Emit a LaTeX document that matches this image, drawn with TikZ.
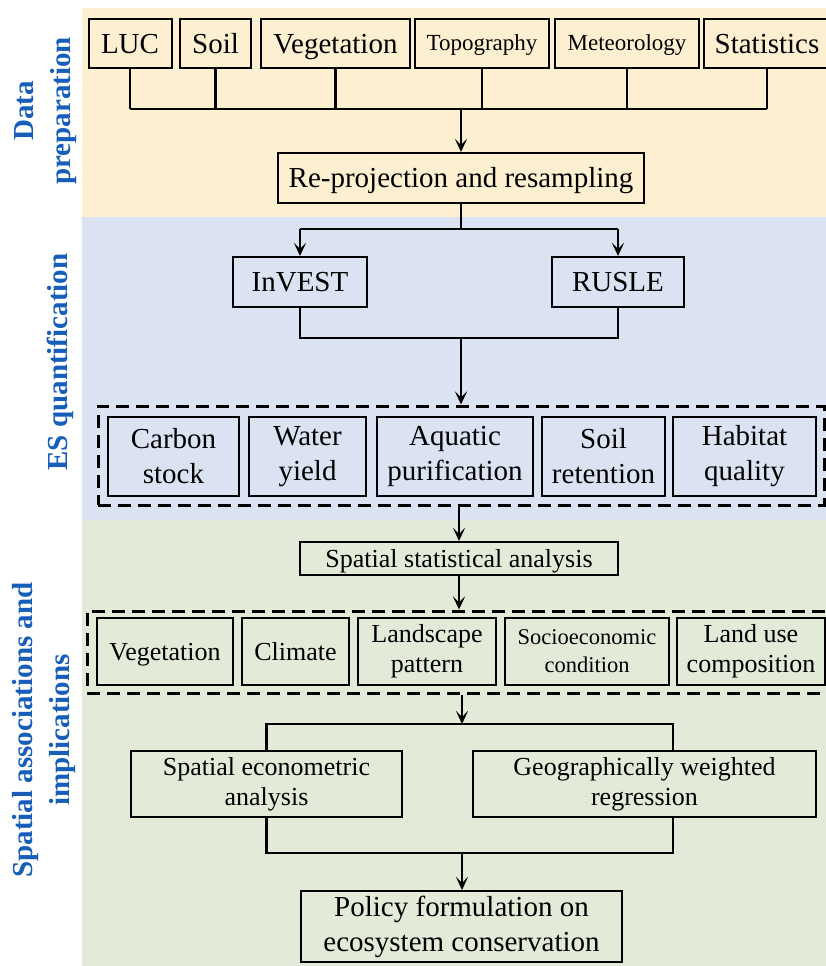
\documentclass[tikz,border=0pt]{standalone}
\usepackage{fontspec}
\setmainfont{Liberation Serif}
\usetikzlibrary{arrows.meta}
\definecolor{bgY}{RGB}{253,240,208}
\definecolor{bgB}{RGB}{219,227,243}
\definecolor{bgG}{RGB}{226,235,216}
\definecolor{labblue}{RGB}{23,94,186}
\tikzset{
 box/.style={draw, line width=2pt, inner sep=0pt, align=center, text=black},
 conn/.style={line width=2.5pt},
 arr/.style={line width=2.5pt, -{Stealth[length=13pt,width=12pt,inset=6pt]}},
 grp/.style={draw, line width=3pt, dash pattern=on 13pt off 7pt, inner sep=0pt},
 lab/.style={rotate=90, align=center, text=labblue, font=\bfseries\fontsize{29}{37}\selectfont},
 fA/.style={font=\fontsize{29}{35}\selectfont},
 fB/.style={font=\fontsize{23}{28}\selectfont},
 fC/.style={font=\fontsize{26}{30}\selectfont},
 fD/.style={font=\fontsize{29}{35}\selectfont},
 fE/.style={font=\fontsize{22.5}{28}\selectfont},
 slA/.style={text height=22pt, text depth=3pt},
 slB/.style={text height=17pt, text depth=2pt},
 slC/.style={text height=19pt, text depth=2pt},
}
\begin{document}
\begin{tikzpicture}[x=1pt,y=-1pt]
\useasboundingbox (0,0) rectangle (826,966);
\clip (0,0) rectangle (826,966);
\fill[white] (0,0) rectangle (826,966);
\fill[bgY] (82,8) rectangle (826,217);
\fill[bgB] (82,217) rectangle (826,520);
\fill[bgG] (82,520) rectangle (826,966);

% side labels
\node[lab] (l1) at (46,111) {Data\\preparation};
\node[lab] (l2) at (60,362) {ES quantification};
\node[lab] (l3) at (44,730) {Spatial associations and\\implications};

% top row
\node[box, fA, slA, minimum width=83pt, minimum height=49pt] (luc) at (130,43.5) {LUC};
\node[box, fA, slA, minimum width=71pt, minimum height=49pt] (soil) at (215.5,43.5) {Soil};
\node[box, fA, slA, minimum width=149pt, minimum height=49pt] (veg) at (335.5,43.5) {Vegetation};
\node[box, fB, slB, minimum width=134pt, minimum height=49pt] (topo) at (482,43.5) {Topography};
\node[box, fB, slB, minimum width=144pt, minimum height=49pt] (met) at (627,43.5) {Meteorology};
\node[box, fA, slA, minimum width=126pt, minimum height=49pt] (stat) at (767,43.5) {Statistics};

\node[box, fD, slA, minimum width=366pt, minimum height=50pt] (rp) at (461,178) {Re-projection and resampling};

\coordinate (bus) at (0,109);
\foreach \n in {luc,soil,veg,topo,met,stat}{
  \draw[conn] (\n.south) -- (\n.south |- bus);
}
\draw[conn] (luc.south |- bus) -- (stat.south |- bus);
\draw[arr] (rp.north |- bus) -- (rp.north);

% ES quantification
\node[box, fA, slA, minimum width=134pt, minimum height=50pt] (inv) at (300,282) {InVEST};
\node[box, fA, slA, minimum width=132pt, minimum height=50pt] (rus) at (618,282) {RUSLE};
\coordinate (split) at (0,229);
\draw[conn] (rp.south) -- (rp.south |- split);
\draw[conn] (inv.north |- split) -- (rus.north |- split);
\draw[arr] (inv.north |- split) -- (inv.north);
\draw[arr] (rus.north |- split) -- (rus.north);

\node[grp, minimum width=726pt, minimum height=99pt] (esg) at (461,455.5) {};
\coordinate (join1) at (0,338);
\draw[conn] (inv.south) -- (inv.south |- join1) -- (rus.south |- join1) -- (rus.south);
\draw[arr] (esg.north |- join1) -- (esg.north);

\node[box, fD, minimum width=131pt, minimum height=79pt] (cs) at (173.5,456.5) {Carbon\\stock};
\node[box, fD, minimum width=117pt, minimum height=79pt] (wy) at (307.5,456.5) {Water\\yield};
\node[box, fD, minimum width=156pt, minimum height=79pt] (ap) at (455,456.5) {Aquatic\\purification};
\node[box, fD, minimum width=123pt, minimum height=79pt] (sr) at (603.5,456.5) {Soil\\retention};
\node[box, fD, minimum width=143pt, minimum height=79pt] (hq) at (744.5,456.5) {Habitat\\quality};

% Spatial associations
\node[box, fC, slC, minimum width=318pt, minimum height=33pt] (ssa) at (459,558.5) {Spatial statistical analysis};
\draw[arr] (esg.south -| ssa.north) -- (ssa.north);

\node[grp, minimum width=748pt, minimum height=82pt] (spg) at (461,652) {};
\draw[arr] (ssa.south) -- (ssa.south |- spg.north);

\node[box, fC, slC, minimum width=136pt, minimum height=67pt] (vg) at (165,651.5) {Vegetation};
\node[box, fC, slC, minimum width=107pt, minimum height=67pt] (cl) at (295.5,651.5) {Climate};
\node[box, fC, minimum width=138pt, minimum height=67pt] (lp) at (427,651.5) {Landscape\\pattern};
\node[box, fE, minimum width=164pt, minimum height=67pt] (se) at (587,651.5) {Socioeconomic\\condition};
\node[box, fC, minimum width=148pt, minimum height=67pt] (lu) at (751,651.5) {Land use\\composition};

\node[box, fC, minimum width=271pt, minimum height=66pt] (sea) at (266.5,784) {Spatial econometric\\analysis};
\node[box, fC, minimum width=343pt, minimum height=66pt] (gwr) at (644.5,784) {Geographically weighted\\regression};
\coordinate (gx) at (673,0);
\coordinate (split2) at (0,724);
\coordinate (mid2) at (462,0);
\draw[arr] (spg.south -| mid2) -- (split2 -| mid2);
\draw[conn] (sea.north) -- (sea.north |- split2) -- (split2 -| gx) -- (gwr.north -| gx);

\node[box, fD, minimum width=321pt, minimum height=71pt] (pol) at (461.5,926.5) {Policy formulation on\\ecosystem conservation};
\coordinate (join2) at (0,853);
\draw[conn] (sea.south) -- (sea.south |- join2) -- (join2 -| gx) -- (gwr.south -| gx);
\draw[arr] (join2 -| mid2) -- (pol.north -| mid2);
\end{tikzpicture}
\end{document}
